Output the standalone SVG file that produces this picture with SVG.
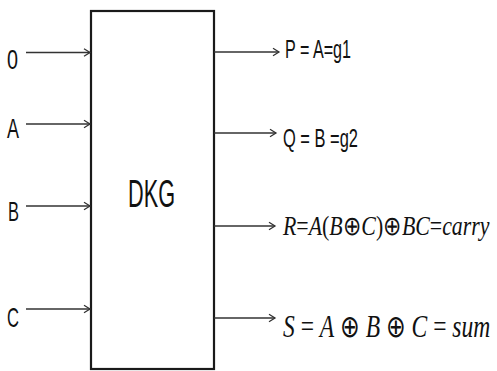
<svg xmlns="http://www.w3.org/2000/svg" width="497" height="371" viewBox="0 0 497 371">
<defs>
<marker id="arr" markerUnits="userSpaceOnUse" markerWidth="10" markerHeight="10" refX="7" refY="5" orient="auto">
<path d="M1,1.2 L7,5 L1,8.8" fill="none" stroke="#333" stroke-width="1.3"/>
</marker>
<style>
.ln{stroke:#333;stroke-width:1.6;fill:none;marker-end:url(#arr)}
.lb{font-family:"Liberation Sans",Arial,sans-serif;fill:#111}
.eq{font-family:"Liberation Serif","Times New Roman",serif;fill:#111}
.it{font-style:italic}
</style>
</defs>
<rect width="497" height="371" fill="#fff"/>
<g id="dkg">
<rect x="91" y="11" width="123" height="358" fill="#fff" stroke="#1a1a1a" stroke-width="2.2"/>
<text class="lb" x="128" y="207" font-size="39" textLength="47" lengthAdjust="spacingAndGlyphs">DKG</text>
</g>
<g id="connectors">
<line class="ln" x1="26" y1="52.5" x2="90" y2="52.5"/>
<line class="ln" x1="26" y1="124" x2="90" y2="124"/>
<line class="ln" x1="26" y1="206" x2="90" y2="206"/>
<line class="ln" x1="26" y1="309" x2="90" y2="309"/>
<line class="ln" x1="214" y1="52" x2="279" y2="52"/>
<line class="ln" x1="214" y1="133" x2="276" y2="133"/>
<line class="ln" x1="214" y1="226" x2="275" y2="226"/>
<line class="ln" x1="214" y1="318" x2="275" y2="318"/>
</g>
<g id="in0"><text class="lb" x="7" y="69" font-size="28" textLength="11" lengthAdjust="spacingAndGlyphs">0</text></g>
<g id="inA"><text class="lb" x="7" y="138" font-size="28" textLength="12" lengthAdjust="spacingAndGlyphs">A</text></g>
<g id="inB"><text class="lb" x="8" y="221" font-size="28" textLength="11" lengthAdjust="spacingAndGlyphs">B</text></g>
<g id="inC"><text class="lb" x="7" y="327" font-size="28" textLength="12" lengthAdjust="spacingAndGlyphs">C</text></g>
<g id="outP"><text class="lb" x="285" y="58" font-size="25" textLength="66" lengthAdjust="spacingAndGlyphs">P = A=g1</text></g>
<g id="outQ"><text class="lb" x="283" y="147" font-size="25" textLength="75" lengthAdjust="spacingAndGlyphs">Q = B =g2</text></g>
<g id="outR" transform="translate(283,235) scale(0.81,1)"><text class="eq" x="0" y="0" font-size="27"><tspan class="it">R</tspan>=<tspan class="it">A</tspan>(<tspan class="it">B</tspan>⊕<tspan class="it">C</tspan>)⊕<tspan class="it">BC</tspan>=<tspan class="it">carry</tspan></text></g>
<g id="outS" transform="translate(283,337) scale(0.76,1)"><text class="eq" x="0" y="0" font-size="31"><tspan class="it">S</tspan> = <tspan class="it">A</tspan> ⊕ <tspan class="it">B</tspan> ⊕ <tspan class="it">C</tspan> = <tspan class="it">sum</tspan></text></g>
</svg>
